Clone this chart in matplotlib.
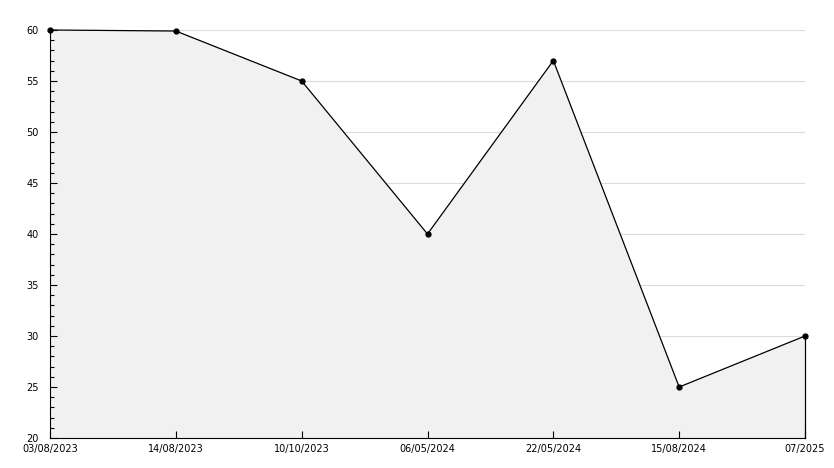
import matplotlib
matplotlib.use("Agg")
from matplotlib import pyplot as plt
from matplotlib.ticker import MultipleLocator
from matplotlib.transforms import ScaledTranslation
import numpy as np

dates = ["03/08/2023", "14/08/2023", "10/10/2023", "06/05/2024",
         "22/05/2024", "15/08/2024", "07/2025"]
values = [60, 59.9, 55, 40, 57, 25, 30]

x = np.arange(len(dates))

fig = plt.figure(figsize=(8.34, 4.68), dpi=100)
ax = fig.add_axes([50/834, 30/468, 755/834, 408/468])

ax.set_xlim(0, len(dates) - 1)
ax.set_ylim(20, 60)

ax.yaxis.set_major_locator(MultipleLocator(5))
ax.yaxis.set_minor_locator(MultipleLocator(1))

# grid lines behind the fill, ticks stay on top
for g in range(25, 61, 5):
    ax.axhline(g, color='#dcdcdc', linewidth=0.8, zorder=0)

ax.fill_between(x, values, 20, facecolor='#f1f1f1', edgecolor='none', zorder=1)
ax.plot(x, values, color='black', linewidth=0.9, marker='o', markersize=3.5,
        zorder=3, clip_on=False)
ax.plot([x[-1], x[-1]], [20, values[-1]], color='black', linewidth=0.9,
        zorder=3, clip_on=False)

ax.set_xticks(x)
ax.set_xticklabels(dates)

ax.spines['right'].set_visible(False)
ax.spines['top'].set_visible(False)

ax.tick_params(axis='x', direction='in', length=5, width=0.8, labelsize=7, pad=4)
ax.tick_params(axis='y', which='major', direction='in', length=5, width=0.8, labelsize=7, pad=8)
ax.tick_params(axis='y', which='minor', direction='in', length=3, width=0.8)

# lift the bottom "20" a little so it clears the first date
fig.canvas.draw()
lbl = ax.get_yticklabels()[0]
lbl.set_transform(lbl.get_transform() + ScaledTranslation(0, 3/100, fig.dpi_scale_trans))

plt.savefig('out.png', dpi=100)
